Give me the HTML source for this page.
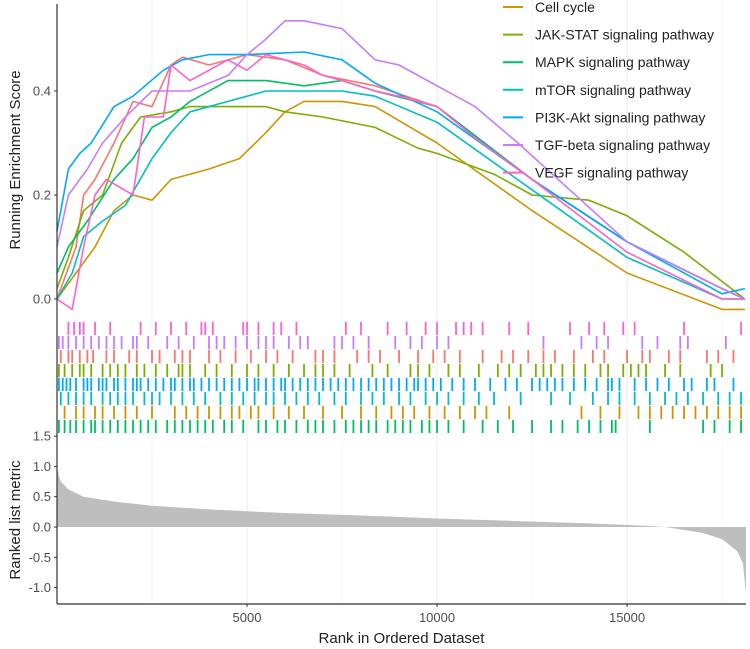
<!DOCTYPE html>
<html><head><meta charset="utf-8"><style>
html,body{margin:0;padding:0;background:#fff}
svg{display:block;font-family:"Liberation Sans",Arial,sans-serif}
</style></head><body>
<svg id="chart" width="750" height="649" viewBox="0 0 750 649"></svg>
<script>
const setNames = ["Apoptosis","Cell cycle","JAK-STAT signaling pathway","MAPK signaling pathway","mTOR signaling pathway","PI3K-Akt signaling pathway","TGF-beta signaling pathway","VEGF signaling pathway"];
const setColors = ["#F8766D","#CD9600","#7CAE00","#00BE67","#00BFC4","#00A9FF","#C77CFF","#FF61CC"];
const xTicks = [5000,10000,15000];
const esTicks = [0.0,0.2,0.4];
const metricTicks = [1.5,1.0,0.5,0.0,-0.5,-1.0];
// running ES curves: [rank, score]
const esRed = [[0,0],[500,0.1],[700,0.2],[1000,0.23],[1500,0.3],[2000,0.38],[2500,0.37],[3000,0.45],[3300,0.465],[4000,0.45],[5000,0.47],[6000,0.46],[7000,0.43],[8370,0.41],[10000,0.37],[12500,0.23],[15000,0.11],[17500,0.02],[18100,0.0]];
const esOrange = [[0,0],[500,0.05],[1000,0.1],[1500,0.17],[2000,0.2],[2500,0.19],[3000,0.23],[4000,0.25],[4800,0.27],[5500,0.32],[6000,0.36],[6500,0.38],[7500,0.38],[8370,0.37],[10000,0.3],[12500,0.17],[15000,0.05],[17500,-0.02],[18100,-0.02]];
const esOlive = [[0,0.02],[300,0.08],[700,0.17],[1200,0.2],[1700,0.3],[2200,0.35],[3000,0.36],[3500,0.37],[4500,0.37],[5500,0.37],[6000,0.36],[7000,0.35],[8370,0.33],[9500,0.29],[10000,0.28],[11500,0.24],[12500,0.2],[14000,0.19],[15000,0.16],[16500,0.09],[18100,0.0]];
const esGreen = [[0,0.05],[300,0.1],[800,0.15],[1500,0.23],[2000,0.27],[2500,0.33],[3000,0.35],[3500,0.38],[4500,0.42],[5500,0.42],[6500,0.41],[7500,0.42],[8370,0.4],[10000,0.37],[12500,0.23],[15000,0.11],[17500,0.02],[18100,0.0]];
const esCyan = [[0,0],[400,0.05],[700,0.12],[1200,0.15],[1800,0.18],[2500,0.27],[3000,0.32],[3500,0.36],[4500,0.38],[5500,0.4],[6500,0.4],[7500,0.4],[8370,0.39],[10000,0.34],[12500,0.21],[15000,0.08],[17500,0.0],[18100,0.0]];
const esBlue = [[0,0.13],[300,0.25],[600,0.28],[900,0.3],[1500,0.37],[2000,0.39],[2800,0.44],[3300,0.46],[4000,0.47],[5000,0.47],[6500,0.475],[7500,0.46],[8370,0.415],[10000,0.36],[12500,0.23],[15000,0.11],[17500,0.01],[18100,0.02]];
const esPurple = [[0,0.1],[300,0.2],[800,0.25],[1200,0.3],[1800,0.35],[2500,0.4],[3500,0.4],[4500,0.43],[5000,0.47],[5500,0.5],[6000,0.535],[6500,0.535],[7500,0.52],[8370,0.46],[9000,0.45],[10000,0.41],[11000,0.37],[12130,0.3],[15000,0.11],[17500,0.02],[18100,0.0]];
const esPink = [[0,0],[400,-0.02],[700,0.1],[1000,0.2],[1300,0.23],[2000,0.2],[2300,0.35],[2800,0.35],[3000,0.45],[3500,0.42],[4500,0.46],[5000,0.44],[5500,0.47],[6500,0.45],[7000,0.43],[7500,0.42],[8370,0.4],[9000,0.39],[10000,0.37],[11000,0.31],[12500,0.23],[15000,0.09],[17500,0.0],[18100,0.0]];
// hit ranks per gene set
const hitsPink = [300,450,600,700,1000,1400,2200,2600,3000,3400,3800,3900,4100,4900,5000,5300,5700,5900,6300,7600,8000,8700,9200,9700,10000,10500,10700,10900,11200,11900,12400,13500,14000,14400,14900,15200,16500,18000];
const hitsPurple = [50,150,300,500,700,900,1100,1300,1500,1700,2000,2100,2400,2900,3200,3600,4000,4200,4400,4700,5000,5300,5500,5700,6100,6400,6600,7300,7500,7800,8200,8900,9300,9600,10000,10300,12800,13800,14200,14500,15400,15800,16400,16600,17600];
const hitsRed = [100,300,400,600,800,950,1300,1500,1900,2100,2500,2700,3100,3300,3500,4000,4300,4700,5100,5500,5800,6200,6800,7000,7300,7900,8200,8500,9000,9500,9900,10200,10600,11200,11700,12000,12400,12800,13100,13600,14100,14400,15000,15400,15600,16100,16400,17100,17400,17800];
const hitsOlive = [50,200,400,600,700,900,1200,1400,1600,1800,2100,2300,2600,2900,3200,3300,3500,3900,4200,4600,5000,5300,5700,6100,6500,6800,7000,7300,7700,8300,8700,9300,9500,9800,10300,10600,11100,11600,11900,12200,12600,12800,13000,13300,13600,13900,14300,14500,14900,15100,15300,15500,16000,16400,17200,17500];
const hitsBlue = [50,150,250,350,500,700,800,900,1100,1200,1300,1500,1600,1800,2000,2100,2200,2400,2600,2800,3000,3100,3300,3500,3600,3800,4000,4200,4400,4600,4800,5000,5200,5300,5500,5700,5900,6000,6200,6400,6600,6800,7000,7200,7400,7600,7800,8000,8200,8400,8600,8800,9000,9200,9400,9500,9700,9900,10100,10400,10700,11000,11400,11800,12100,12500,12700,12900,13100,13300,13600,13900,14200,14500,14600,14800,15200,15500,15800,16100,16500,16700,17100,17300,17800];
const hitsCyan = [100,300,500,700,900,1200,1400,1600,1800,2000,2300,2500,2700,3000,3300,3600,3900,4300,4600,4900,5200,5500,5700,6000,6300,6600,6900,7300,7600,8000,8300,8600,9000,9300,9700,10000,10300,10700,11100,11500,12200,13000,13500,14100,14500,14800,15200,15600,16000,16300,16600,17000,17400,17700,18000];
const hitsOrange = [200,500,700,1000,1200,1500,1800,2100,2500,3100,3400,3700,4000,4300,4600,4800,5100,5300,5700,6100,6500,7000,7500,8000,8400,8800,9100,9400,9800,10200,10600,11000,11300,11900,13800,14300,14800,15300,15600,15900,16200,16500,16800,17100,17400,17700,18000];
const hitsGreen = [50,200,350,500,700,900,1000,1200,1400,1600,1800,2000,2200,2400,2600,2900,3100,3300,3500,3700,3900,4100,4400,4600,4900,5300,5500,5800,6000,6300,6600,6800,7000,7300,7600,7800,8000,8200,8400,8700,8900,9100,9300,9600,9800,10000,10300,10700,11200,11600,12000,12500,13000,13300,13700,14000,14300,14600,14700,15600,17000,17300,17700,18000];
// ranked list metric samples
const metricRanks = [0,50,100,300,700,1500,2500,4000,6000,8000,10000,12000,14000,15500,16000,17000,17500,17900,18050,18130];
const metricValues = [1.0,0.85,0.75,0.62,0.5,0.42,0.35,0.29,0.23,0.19,0.14,0.1,0.06,0.02,0.0,-0.1,-0.2,-0.4,-0.6,-1.1];

const esSeries = [esRed,esOrange,esOlive,esGreen,esCyan,esBlue,esPurple,esPink];
const hitSeries = [hitsRed,hitsOrange,hitsOlive,hitsGreen,hitsCyan,hitsBlue,hitsPurple,hitsPink];
const rugOrder = [7,6,0,2,5,4,1,3]; // top-to-bottom rows

const NS="http://www.w3.org/2000/svg";
const svg=document.getElementById('chart');
function mk(tag,attrs,parent){const e=document.createElementNS(NS,tag);for(const k in attrs)e.setAttribute(k,attrs[k]);(parent||svg).appendChild(e);return e;}
const X0=57,X1=746,RMAX=18130;
const xs=r=>X0+r*(X1-X0)/RMAX;
const yES=v=>299-v*520;
const yM=v=>527-v*60.6;

for(let r=2500;r<RMAX;r+=2500){
  const g=mk('line',{x1:xs(r),x2:xs(r),y1:0,y2:604,stroke:'#EBEBEB','stroke-width':r%5000===0?1:0.6});
  
  
}
let d=`M${xs(metricRanks[0])},${yM(0)}`;
metricRanks.forEach((r,i)=>{d+=` L${xs(r)},${yM(metricValues[i])}`;});
d+=` L${xs(metricRanks[metricRanks.length-1])},${yM(0)} Z`;
const area=mk('path',{d:d,fill:'#BEBEBE',stroke:'none'});



rugOrder.forEach((si,row)=>{
  const y0=322+row*14,y1=y0+13;
  const g=mk('g',{stroke:setColors[si],'stroke-width':1.8});
  
  
  hitSeries[si].forEach(r=>{
    const l=mk('line',{x1:xs(r),x2:xs(r),y1:y0,y2:y1},g);
    
    
  });
});

esSeries.forEach((s,i)=>{
  const p=mk('polyline',{points:s.map(q=>xs(q[0])+','+yES(q[1])).join(' '),fill:'none',stroke:setColors[i],'stroke-width':1.6,'stroke-linejoin':'round'});
  
  
});

const ax=mk('line',{x1:X0,x2:X0,y1:4,y2:604,stroke:'#333','stroke-width':1.2});


const bx=mk('line',{x1:X0,x2:X1,y1:604,y2:604,stroke:'#333','stroke-width':1.2});



esTicks.forEach(v=>{
  mk('line',{x1:X0-3,x2:X0,y1:yES(v),y2:yES(v),stroke:'#333'});
  const t=mk('text',{x:X0-6,y:yES(v)+4.5,'text-anchor':'end','font-size':13,fill:'#4D4D4D'});
  t.textContent=v.toFixed(1);
  
  
});
metricTicks.forEach(v=>{
  mk('line',{x1:X0-3,x2:X0,y1:yM(v),y2:yM(v),stroke:'#333'});
  const t=mk('text',{x:X0-6,y:yM(v)+4.5,'text-anchor':'end','font-size':13,fill:'#4D4D4D'});
  t.textContent=v.toFixed(1);
  
  
});
xTicks.forEach(v=>{
  mk('line',{x1:xs(v),x2:xs(v),y1:604,y2:607,stroke:'#333'});
  const t=mk('text',{x:xs(v),y:622,'text-anchor':'middle','font-size':13,fill:'#4D4D4D'});
  t.textContent=v;
  
  
});
const xt=mk('text',{x:(X0+X1)/2,y:643,'text-anchor':'middle','font-size':15,fill:'#222'});
xt.textContent='Rank in Ordered Dataset';


const yt1=mk('text',{x:0,y:0,transform:'translate(20,160) rotate(-90)','text-anchor':'middle','font-size':15,fill:'#222'});
yt1.textContent='Running Enrichment Score';


const yt2=mk('text',{x:0,y:0,transform:'translate(20,520) rotate(-90)','text-anchor':'middle','font-size':15,fill:'#222'});
yt2.textContent='Ranked list metric';



for(let i=1;i<setNames.length;i++){
  const y=7+(i-1)*27.6;
  const g=mk('g',{});
  
  
  mk('line',{x1:503,x2:523,y1:y,y2:y,stroke:setColors[i],'stroke-width':2},g);
  const t=mk('text',{x:535,y:y+5,'font-size':14,fill:'#222'},g);
  t.textContent=setNames[i];
}
</script>
</body></html>
